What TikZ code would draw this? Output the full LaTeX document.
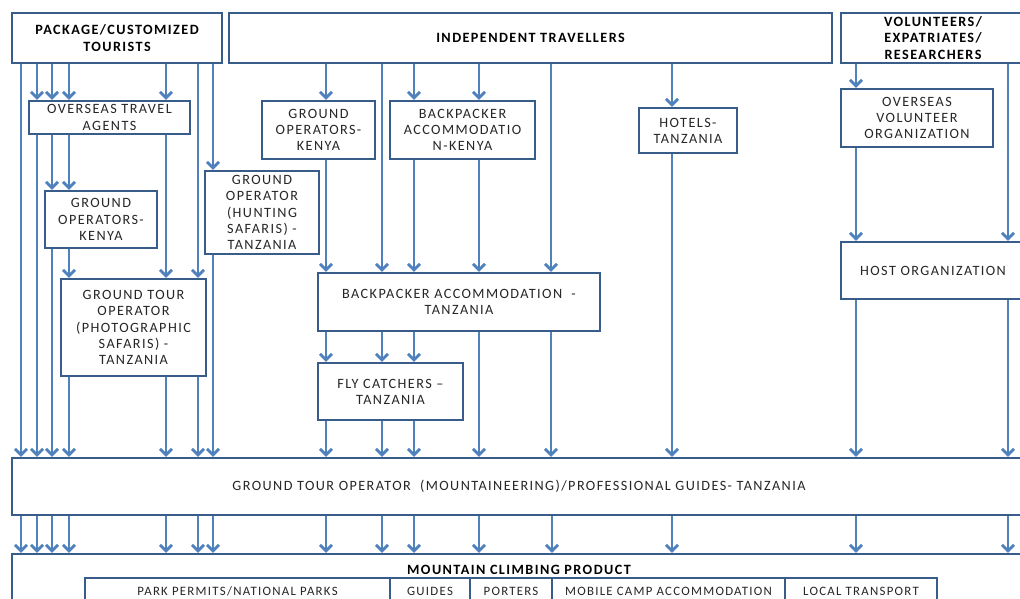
\documentclass[tikz,border=0pt]{standalone}
\usepackage{fontspec}
\setmainfont{Carlito}[LetterSpace=10]
\usetikzlibrary{arrows.meta}
\definecolor{boxline}{RGB}{56,93,138}
\definecolor{flowblue}{RGB}{79,129,189}
\tikzset{
	box/.style={draw=boxline, line width=2.2pt, fill=white, align=center, inner sep=0pt,
		text=black!85, font=\fontsize{14.2}{16.2}\selectfont},
	headbox/.style={box, text=black, font=\bfseries\fontsize{14.2}{16.2}\selectfont},
	part/.style={box, font=\fontsize{12.8}{14}\selectfont},
	flow/.style={flowblue, line width=2.8pt, -{Straight Barb[length=6pt,width=12pt]}},
}
\begin{document}
\begin{tikzpicture}[x=1pt, y=-1pt]
	\clip (0,0) rectangle (1020,599);
	\fill[white] (0,0) rectangle (1020,599);
	
	%tourist groups
	\node (pkg) at (117,38) [headbox, minimum width=210, minimum height=50]{PACKAGE/CUSTOMIZED\\TOURISTS};
	\node (ind) at (530.5,38) [headbox, minimum width=603, minimum height=50]{INDEPENDENT TRAVELLERS};
	\node (vol) at (933,38) [headbox, minimum width=184, minimum height=50]{VOLUNTEERS/\\EXPATRIATES/\\RESEARCHERS};
	
	%intermediaries
	\node (ota) at (109.5,117.5) [box, minimum width=161, minimum height=33]{OVERSEAS TRAVEL\\AGENTS};
	\node (gok1) at (101,219.5) [box, minimum width=112, minimum height=57]{GROUND\\OPERATORS-\\KENYA};
	\node (hunt) at (262,212.5) [box, minimum width=114, minimum height=83]{GROUND\\OPERATOR\\(HUNTING\\SAFARIS) -\\TANZANIA};
	\node (gok2) at (318.5,130) [box, minimum width=113, minimum height=58]{GROUND\\OPERATORS-\\KENYA};
	\node (bak) at (462.5,130) [box, minimum width=145, minimum height=58]{BACKPACKER\\ACCOMMODATIO\\N-KENYA};
	\node (hot) at (688,130.5) [box, minimum width=98, minimum height=45]{HOTELS-\\TANZANIA};
	\node (ovo) at (917,118) [box, minimum width=152, minimum height=58]{OVERSEAS\\VOLUNTEER\\ORGANIZATION};
	\node (host) at (933,270.5) [box, minimum width=184, minimum height=57]{HOST ORGANIZATION};
	\node (photo) at (133.5,327.5) [box, minimum width=145, minimum height=97]{GROUND TOUR\\OPERATOR\\(PHOTOGRAPHIC\\SAFARIS) -\\TANZANIA};
	\node (batz) at (459,302) [box, minimum width=282, minimum height=58]{BACKPACKER ACCOMMODATION~ -\\TANZANIA};
	\node (fly) at (390.5,391.5) [box, minimum width=145, minimum height=57]{FLY CATCHERS --\\TANZANIA};
	
	%mountaineering operator and product
	\node (gtm) at (519,486.5) [box, minimum width=1014, minimum height=57]{GROUND TOUR OPERATOR~ (MOUNTAINEERING)/PROFESSIONAL GUIDES- TANZANIA};
	\node (mcp) at (519,597) [box, minimum width=1014, minimum height=86]{};
	\node (mcptitle) at (519,570) [font=\bfseries\fontsize{14.2}{16.2}\selectfont]{MOUNTAIN CLIMBING PRODUCT};
	\node (park) at (237.5,591) [part, minimum width=305, minimum height=26]{PARK PERMITS/NATIONAL PARKS};
	\node (guides) at (430,591) [part, minimum width=80, minimum height=26]{GUIDES};
	\node (porters) at (511,591) [part, minimum width=82, minimum height=26]{PORTERS};
	\node (camp) at (668.5,591) [part, minimum width=233, minimum height=26]{MOBILE CAMP ACCOMMODATION};
	\node (trans) at (861,591) [part, minimum width=152, minimum height=26]{LOCAL TRANSPORT};
	
	%flows
	\foreach \x/\a/\b in {21/pkg/gtm, 37/pkg/ota, 52/pkg/ota, 69/pkg/ota, 166/pkg/ota, 198/pkg/photo, 213/pkg/hunt,
		37/ota/gtm, 52/ota/gok1, 69/ota/gok1, 166/ota/photo, 52/gok1/gtm, 69/gok1/photo, 213/hunt/gtm,
		69/photo/gtm, 166/photo/gtm, 198/photo/gtm,
		326/ind/gok2, 382/ind/batz, 414/ind/bak, 479/ind/bak, 551/ind/batz, 672/ind/hot,
		326/gok2/batz, 414/bak/batz, 479/bak/batz, 672/hot/gtm,
		326/batz/fly, 382/batz/fly, 414/batz/fly, 479/batz/gtm, 551/batz/gtm,
		326/fly/gtm, 382/fly/gtm, 414/fly/gtm,
		856/vol/ovo, 1008/vol/host, 856/ovo/host, 856/host/gtm, 1008/host/gtm}{
		\draw[flow] (\x,0 |- \a.south) -- (\x,0 |- \b.north);
	}
	\foreach \x in {21, 37, 52, 69, 166, 198, 213, 326, 382, 414, 479, 552, 672, 856, 1008}{
		\draw[flow] (\x,0 |- gtm.south) -- (\x,0 |- mcp.north);
	}
\end{tikzpicture}
\end{document}
